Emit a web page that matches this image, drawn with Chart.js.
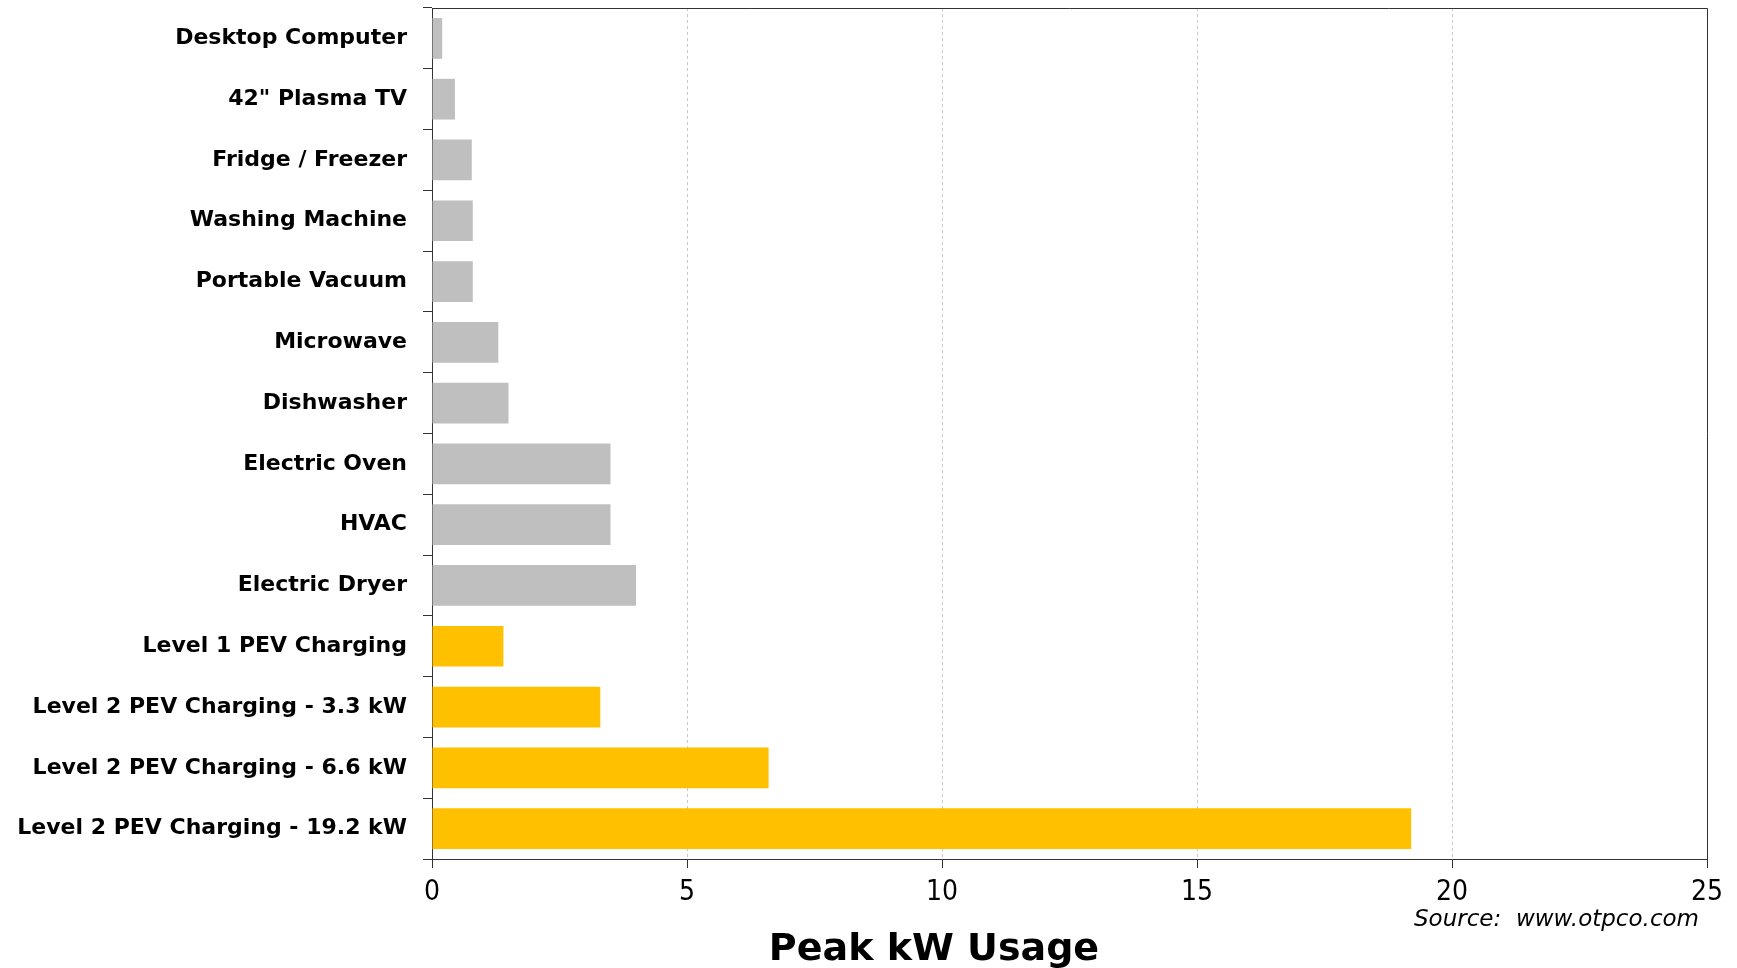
<!DOCTYPE html>
<html>
<head>
<meta charset="utf-8">
<script src="https://cdn.jsdelivr.net/npm/chart.js@4"></script>
<style>
  html, body { margin: 0; padding: 0; background: #fff; }
  #wrap { width: 1737px; height: 968px; }
</style>
</head>
<body>
<div id="wrap"><canvas id="chart" width="1737" height="968"></canvas></div>
<script>
// household appliances (grey) and PEV charging levels (yellow), peak kW
const applianceLabels = [
  "Desktop Computer",
  "42\" Plasma TV",
  "Fridge / Freezer",
  "Washing Machine",
  "Portable Vacuum",
  "Microwave",
  "Dishwasher",
  "Electric Oven",
  "HVAC",
  "Electric Dryer",
];
const applianceValues = [0.2, 0.45, 0.78, 0.8, 0.8, 1.3, 1.5, 3.5, 3.5, 4.0];

const pevLabels = [
  "Level 1 PEV Charging",
  "Level 2 PEV Charging - 3.3 kW",
  "Level 2 PEV Charging - 6.6 kW",
  "Level 2 PEV Charging - 19.2 kW",
];
const pevValues = [1.4, 3.3, 6.6, 19.2];

const xTicks = [0, 5, 10, 15, 20, 25];
const axisTitle = "Peak kW Usage";
const sourceNote = "Source:  www.otpco.com";

const labels = applianceLabels.concat(pevLabels);
const values = applianceValues.concat(pevValues);
const colors = labels.map((_, i) => (i < applianceLabels.length ? "#bfbfbf" : "#ffc000"));

const frameColor = "#333333";

// top + right frame lines, axis title and source note
const extras = {
  id: "extras",
  afterDraw(chart) {
    const { ctx, chartArea } = chart;
    ctx.save();
    ctx.strokeStyle = frameColor;
    ctx.lineWidth = 1;
    ctx.beginPath();
    ctx.moveTo(chartArea.left, chartArea.top + 0.5);
    ctx.lineTo(chartArea.right + 0.5, chartArea.top + 0.5);
    ctx.lineTo(chartArea.right + 0.5, chartArea.bottom);
    ctx.stroke();

    ctx.fillStyle = "#000";
    ctx.textAlign = "center";
    ctx.textBaseline = "alphabetic";
    ctx.font = "bold 38px 'DejaVu Sans'";
    ctx.fillText(axisTitle, 934, 960);

    ctx.textAlign = "right";
    ctx.font = "italic 23px 'DejaVu Sans'";
    ctx.fillText(sourceNote, 1699, 926);
    ctx.restore();
  },
};

new Chart(document.getElementById("chart"), {
  type: "bar",
  data: {
    labels: labels,
    datasets: [
      {
        data: values,
        backgroundColor: colors,
        borderWidth: 0,
        categoryPercentage: 1,
        barPercentage: 0.67,
      },
    ],
  },
  options: {
    indexAxis: "y",
    responsive: false,
    animation: false,
    layout: { padding: { left: 0, right: 30, top: 8, bottom: 0 } },
    plugins: {
      legend: { display: false },
      tooltip: { enabled: false },
    },
    scales: {
      x: {
        min: 0,
        max: 25,
        afterFit: (scale) => {
          scale.height = 109;
        },
        afterBuildTicks: (scale) => {
          scale.ticks = xTicks.map((v) => ({ value: v }));
        },
        grid: {
          color: "#c8c8c8",
          tickColor: frameColor,
          tickLength: 9,
          lineWidth: 1,
        },
        border: { color: frameColor, width: 1, dash: [3, 3] },
        ticks: {
          color: "#000",
          padding: 8,
          font: { family: "'DejaVu Sans Condensed', 'Liberation Sans', sans-serif", size: 28 },
        },
      },
      y: {
        afterFit: (scale) => {
          scale.width = 432;
          scale.paddingTop = 0;
          scale.paddingBottom = 0;
        },
        grid: {
          offset: true,
          drawOnChartArea: false,
          tickColor: frameColor,
          tickLength: 9,
        },
        border: { color: frameColor, width: 1 },
        ticks: {
          color: "#000",
          padding: 16,
          autoSkip: false,
          font: { family: "'DejaVu Sans', sans-serif", size: 22, weight: "bold" },
        },
      },
    },
  },
  plugins: [extras],
});
</script>
</body>
</html>
